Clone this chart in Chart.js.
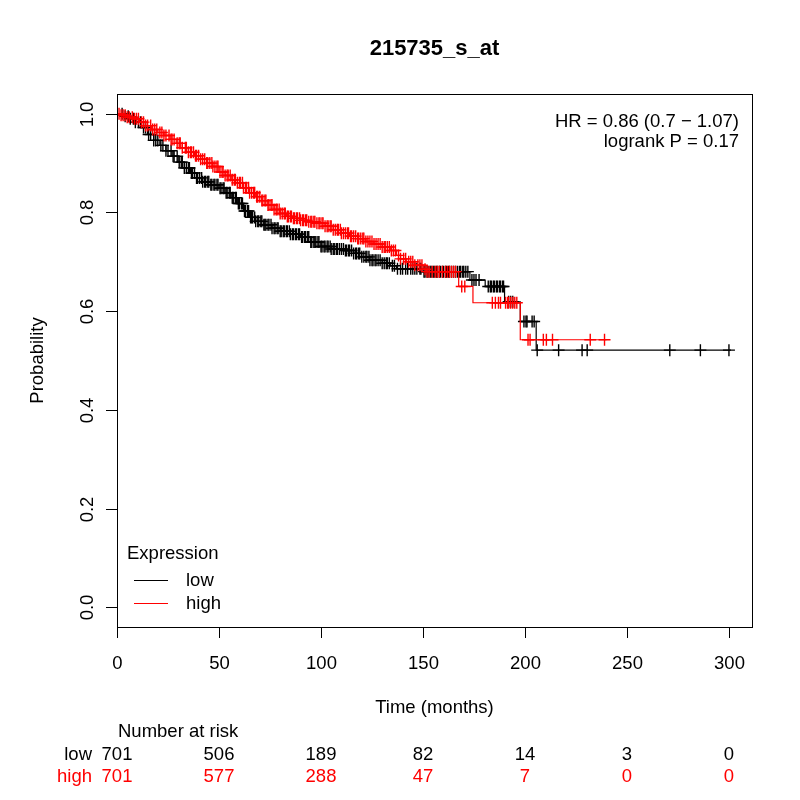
<!DOCTYPE html>
<html>
<head>
<meta charset="utf-8">
<script src="https://cdn.jsdelivr.net/npm/chart.js@4/dist/chart.umd.min.js"></script>
<style>
html,body{margin:0;padding:0;background:#fff;}
#wrap{width:800px;height:800px;position:relative;}
</style>
</head>
<body>
<div id="wrap"><canvas id="c" width="800" height="800"></canvas></div>
<script>
// ---- data ----
const chartTitle = "215735_s_at";
const xTicks = [0, 50, 100, 150, 200, 250, 300];
const yTicks = [0.0, 0.2, 0.4, 0.6, 0.8, 1.0];
const yTickLabels = ["0.0", "0.2", "0.4", "0.6", "0.8", "1.0"];
const groupNames = ["low", "high"];
const riskLow = [701, 506, 189, 82, 14, 3, 0];
const riskHigh = [701, 577, 288, 47, 7, 0, 0];
const statLines = ["HR = 0.86 (0.7 \u2212 1.07)", "logrank P = 0.17"];

// Kaplan-Meier step points (time in months, survival after that time)
const lowTime = [0, 3, 6, 9, 12, 15, 18, 21, 24, 27, 30, 33, 36, 39, 42, 46, 50, 53, 56, 59, 62, 65, 68, 72, 76, 80, 85, 90, 95, 100, 105, 112, 116, 120, 124, 130, 134, 137, 150, 173, 180.5, 190, 197.7, 205.5, 301];
const lowSurv = [1.0, 0.995, 0.99, 0.983, 0.972, 0.958, 0.946, 0.936, 0.925, 0.914, 0.902, 0.89, 0.88, 0.87, 0.862, 0.856, 0.849, 0.84, 0.83, 0.818, 0.803, 0.79, 0.782, 0.775, 0.768, 0.762, 0.756, 0.75, 0.74, 0.731, 0.726, 0.723, 0.717, 0.71, 0.703, 0.697, 0.692, 0.686, 0.68, 0.663, 0.65, 0.619, 0.579, 0.521, 0.521];
const highTime = [0, 2, 5, 8, 11, 14, 17, 20, 23, 26, 29, 32, 35, 38, 41, 44, 47, 50, 53, 56, 59, 62, 65, 68, 71, 74, 77, 80, 83, 86, 90, 94, 98, 102, 106, 110, 114, 118, 122, 126, 130, 134, 137, 139, 142, 146, 150, 152, 167.5, 174.5, 197.7, 240];
const highSurv = [1.0, 0.997, 0.993, 0.99, 0.983, 0.976, 0.968, 0.962, 0.956, 0.948, 0.94, 0.931, 0.922, 0.915, 0.908, 0.9, 0.893, 0.882, 0.875, 0.866, 0.86, 0.85, 0.84, 0.832, 0.824, 0.815, 0.806, 0.798, 0.792, 0.788, 0.784, 0.781, 0.778, 0.772, 0.765, 0.758, 0.752, 0.747, 0.741, 0.736, 0.73, 0.723, 0.713, 0.706, 0.7, 0.693, 0.685, 0.68, 0.65, 0.617, 0.542, 0.542];

// censoring times
const lowCensor = [2.5, 4, 5.5, 6.5, 8, 9, 10.5, 11.5, 13, 14, 15.5, 16.5, 18, 19, 20, 21.5, 22.5, 24, 25, 26.5, 27.5, 28, 29.5, 30.5, 31.5, 32, 33, 34, 35, 35.5, 36.5, 37, 38, 39, 39.5, 40.5, 41.5, 42, 43, 43.5, 44.5, 45, 46, 46.5, 47.5, 48, 49, 49.5, 50.5, 51, 52, 52.5, 53.5, 54, 55, 55.5, 56.5, 57, 58, 58.5, 59.5, 60, 61, 61.5, 62.5, 63, 64, 64.5, 65.5, 66, 66.5, 67.5, 68, 69, 69.5, 70.5, 71, 72, 72.5, 73, 74, 74.5, 75.5, 76, 77, 77.5, 78.5, 79, 80, 80.5, 81.5, 82, 83, 83.5, 84.5, 85, 86, 86.5, 87.5, 88, 89, 89.5, 90.5, 91, 92, 92.5, 93.5, 94, 95, 95.5, 96.5, 97, 97.5, 98.5, 99, 100, 100.5, 101.5, 102, 103, 103.5, 104.5, 105, 106, 106.5, 107.5, 108, 109, 110, 111, 112, 112.5, 113.5, 114, 115, 116, 117, 117.5, 118.5, 119, 120, 121, 122, 122.5, 123.5, 124, 125, 125.5, 126.5, 127, 128, 129, 130, 131, 132, 132.5, 133.5, 135, 136, 137.5, 139, 140, 141.5, 142.5, 144, 145, 146, 147, 148.5, 149, 150.5, 151, 152, 152.5, 153.5, 154, 155, 155.5, 156.5, 157, 158, 158.5, 159.5, 160, 161, 161.5, 162.5, 163, 164, 165, 166, 167, 168, 168.5, 169.5, 170, 171, 172, 174, 175, 176, 177.5, 182, 183, 183.5, 184.5, 185, 186, 186.5, 187.5, 188, 189, 189.5, 192, 193, 194, 199.5, 200.5, 201, 203.5, 204.5, 206, 216.5, 228, 230.5, 271, 286, 300];
const highCensor = [1, 2, 3, 4, 5, 6, 7.5, 8.5, 9.5, 10.5, 12, 13, 14, 15, 16.5, 17.5, 18.5, 19.5, 21, 22, 23, 24, 25.5, 26.5, 27, 28, 29.5, 30.5, 31, 32, 33.5, 34, 35, 36, 36.5, 37.5, 38.5, 39, 40, 41, 42, 43, 44, 44.5, 45.5, 46.5, 47, 48, 49, 49.5, 50.5, 51.5, 52, 53, 54, 54.5, 55.5, 56.5, 57.5, 58, 59, 60, 60.5, 61.5, 62, 63, 63.5, 64.5, 65, 66, 67, 67.5, 68.5, 69, 70, 71, 71.5, 72.5, 73, 74, 74.5, 75.5, 76, 77, 78, 78.5, 79.5, 80, 81, 82, 82.5, 83.5, 84, 85, 85.5, 86.5, 87, 88, 88.5, 89.5, 90, 91, 91.5, 92.5, 93, 94, 95, 95.5, 96.5, 97, 98, 99, 99.5, 100.5, 101, 102, 103, 103.5, 104.5, 105, 106, 107, 108, 108.5, 109.5, 110, 111, 112, 113, 113.5, 114.5, 115, 116, 117, 118, 118.5, 119.5, 120.5, 121, 122, 123, 124, 125, 126, 127, 128, 129, 130, 131, 131.5, 132.5, 133.5, 134.5, 135.5, 136.5, 138, 139, 140.5, 141.5, 143, 144, 145, 146, 147.5, 148.5, 149.5, 151, 152, 153, 154.5, 156, 157, 158, 159.5, 161, 162, 163, 164, 165, 166, 169, 170.5, 184, 185.5, 187, 188, 190.5, 191.5, 192, 193, 194, 195, 196, 201.5, 202.5, 209, 210.5, 213.5, 232, 239];

// ---- build ----
const FONT = '"Liberation Sans", Arial, Helvetica, sans-serif';
const FS = 18.5;
const RED = '#ff0000';
const BLACK = '#000000';

function stepPoints(ts, ss) { return ts.map((t, i) => ({x: t, y: ss[i]})); }
function survAt(ts, ss, t) {
  let s = ss[0];
  for (let i = 0; i < ts.length; i++) { if (ts[i] <= t) s = ss[i]; else break; }
  return s;
}
function censorPoints(cs, ts, ss) { return cs.map(t => ({x: t, y: survAt(ts, ss, t)})); }

const decor = {
  id: 'decor',
  afterDraw(chart) {
    const ctx = chart.ctx;
    const xs = chart.scales.x, ys = chart.scales.y;
    const a = chart.chartArea;
    ctx.save();
    ctx.strokeStyle = '#000';
    ctx.lineWidth = 1;
    // box
    ctx.strokeRect(Math.round(a.left) + 0.5, Math.round(a.top) + 0.5, Math.round(a.right - a.left), Math.round(a.bottom - a.top));
    // x ticks
    ctx.fillStyle = '#000';
    ctx.font = FS + 'px ' + FONT;
    ctx.textAlign = 'center';
    ctx.textBaseline = 'alphabetic';
    xTicks.forEach(v => {
      const px = Math.round(xs.getPixelForValue(v)) + 0.5;
      ctx.beginPath(); ctx.moveTo(px, a.bottom); ctx.lineTo(px, a.bottom + 11); ctx.stroke();
      ctx.fillText(String(v), px, 669);
    });
    // y ticks
    yTicks.forEach((v, i) => {
      const py = Math.round(ys.getPixelForValue(v)) + 0.5;
      ctx.beginPath(); ctx.moveTo(a.left, py); ctx.lineTo(a.left - 11, py); ctx.stroke();
      ctx.save();
      ctx.translate(93, py);
      ctx.rotate(-Math.PI / 2);
      ctx.textAlign = 'center';
      ctx.fillText(yTickLabels[i], 0, 0);
      ctx.restore();
    });
    // axis titles
    ctx.fillText('Time (months)', (a.left + a.right) / 2, 713);
    ctx.save();
    ctx.translate(43, (a.top + a.bottom) / 2);
    ctx.rotate(-Math.PI / 2);
    ctx.fillText('Probability', 0, 0);
    ctx.restore();
    // title
    ctx.font = 'bold 22px ' + FONT;
    ctx.fillText(chartTitle, (a.left + a.right) / 2, 55);
    // stats
    ctx.font = FS + 'px ' + FONT;
    ctx.textAlign = 'right';
    ctx.fillText(statLines[0], 739, 127);
    ctx.fillText(statLines[1], 739, 147);
    // legend
    ctx.textAlign = 'left';
    ctx.fillText('Expression', 127, 559);
    ctx.strokeStyle = BLACK;
    ctx.beginPath(); ctx.moveTo(134, 580.5); ctx.lineTo(168, 580.5); ctx.stroke();
    ctx.strokeStyle = RED;
    ctx.beginPath(); ctx.moveTo(134, 603.5); ctx.lineTo(168, 603.5); ctx.stroke();
    ctx.fillText(groupNames[0], 186, 586);
    ctx.fillText(groupNames[1], 186, 609);
    // number at risk
    ctx.fillText('Number at risk', 118, 737);
    ctx.textAlign = 'right';
    ctx.fillStyle = BLACK;
    ctx.fillText(groupNames[0], 92, 760);
    ctx.fillStyle = RED;
    ctx.fillText(groupNames[1], 92, 782);
    ctx.textAlign = 'center';
    xTicks.forEach((v, i) => {
      const px = xs.getPixelForValue(v);
      ctx.fillStyle = BLACK;
      ctx.fillText(String(riskLow[i]), px, 760);
      ctx.fillStyle = RED;
      ctx.fillText(String(riskHigh[i]), px, 782);
    });
    ctx.restore();
  }
};

new Chart(document.getElementById('c'), {
  type: 'line',
  data: {
    datasets: [
      {label: 'high', data: stepPoints(highTime, highSurv), stepped: 'before', borderColor: RED, borderWidth: 1.2, pointRadius: 0, fill: false},
      {label: 'high censor', data: censorPoints(highCensor, highTime, highSurv), showLine: false, pointStyle: 'cross', pointRadius: 6, borderColor: RED, backgroundColor: RED, pointBorderWidth: 1.4},
      {label: 'low', data: stepPoints(lowTime, lowSurv), stepped: 'before', borderColor: BLACK, borderWidth: 1.2, pointRadius: 0, fill: false},
      {label: 'low censor', data: censorPoints(lowCensor, lowTime, lowSurv), showLine: false, pointStyle: 'cross', pointRadius: 6, borderColor: BLACK, backgroundColor: BLACK, pointBorderWidth: 1.4}
    ]
  },
  options: {
    responsive: false,
    animation: false,
    devicePixelRatio: 1,
    layout: {padding: {left: 117, top: 94, right: 48, bottom: 173}},
    plugins: {legend: {display: false}, title: {display: false}, tooltip: {enabled: false}},
    scales: {
      x: {type: 'linear', min: 0, max: 311.3, display: false},
      y: {type: 'linear', min: -0.04, max: 1.04, display: false}
    },
    elements: {line: {tension: 0}}
  },
  plugins: [decor]
});
</script>
</body>
</html>
